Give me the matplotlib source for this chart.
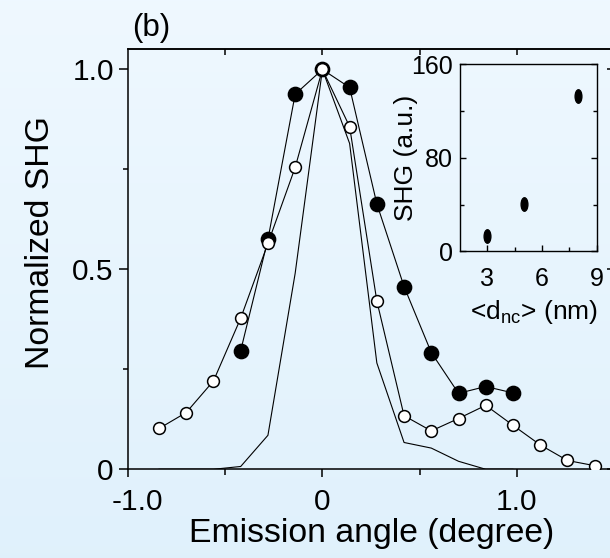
import numpy as np
import matplotlib
matplotlib.use("Agg")
import matplotlib.pyplot as plt
from matplotlib.markers import MarkerStyle
from matplotlib.transforms import Affine2D, ScaledTranslation

plt.rcParams["font.family"] = ["Liberation Sans", "DejaVu Sans"]
plt.rcParams["mathtext.fontset"] = "custom"
plt.rcParams["mathtext.rm"] = "Liberation Sans"
plt.rcParams["mathtext.it"] = "Liberation Sans:italic"

# Angular scans: emission angle (degree) vs normalized SHG
angle_filled = [-0.42, -0.28, -0.14, 0.0, 0.14, 0.28, 0.42, 0.56, 0.70, 0.84, 0.98]
shg_filled = [0.297, 0.575, 0.938, 1.0, 0.955, 0.664, 0.457, 0.292, 0.19, 0.207, 0.191]

angle_open = [-0.84, -0.70, -0.56, -0.42, -0.28, -0.14, 0.0, 0.14, 0.28, 0.42,
              0.56, 0.70, 0.84, 0.98, 1.12, 1.26, 1.40]
shg_open = [0.102, 0.142, 0.221, 0.378, 0.565, 0.755, 1.0, 0.857, 0.421, 0.134,
            0.096, 0.127, 0.160, 0.110, 0.061, 0.022, 0.009]

# Reference (fundamental beam) profile
angle_ref = [-0.84, -0.70, -0.56, -0.42, -0.28, -0.14, 0.0, 0.14, 0.28, 0.42,
             0.56, 0.70, 0.84, 0.98]
shg_ref = [0.0, 0.0, 0.0, 0.007, 0.085, 0.49, 1.0, 0.815, 0.266, 0.067,
           0.053, 0.02, 0.0, 0.0]

# Inset: SHG vs mean nanocrystal size
size_nc = [3.0, 5.0, 8.0]
shg_size = [13, 41, 133]

x_major = [-1.0, 0.0, 1.0]
x_major_labels = ["-1.0", "0", "1.0"]
x_minor = [-0.5, 0.5]
y_major = [0.0, 0.5, 1.0]
y_major_labels = ["0", "0.5", "1.0"]
y_minor = [0.25, 0.75]

inset_x_major = [3, 6, 9]
inset_x_minor = [4.5, 7.5]
inset_y_major = [0, 80, 160]
inset_y_minor = [40, 120]

fig = plt.figure(figsize=(6.1, 5.58), dpi=100)

# soft vertical background gradient
bg = fig.add_axes([0, 0, 1, 1], zorder=-10)
top_c = np.array([0.937, 0.973, 1.0])
bot_c = np.array([0.878, 0.945, 0.988])
t = np.linspace(0, 1, 256)[:, None, None]
bg.imshow(top_c + (bot_c - top_c) * t, aspect="auto", extent=[0, 1, 0, 1], origin="upper")
bg.axis("off")

# main panel
ax = fig.add_axes([0.2097, 0.159, 0.797, 0.7523])
ax.patch.set_alpha(0)
ax.plot(angle_ref, shg_ref, color="black", lw=0.8, zorder=2)
ax.plot(angle_filled, shg_filled, "-o", color="black", lw=0.8, ms=10.3,
        mfc="black", mec="black", zorder=3)
ax.plot(angle_open, shg_open, "-o", color="black", lw=0.8, ms=8.5,
        mfc="white", mec="black", mew=1.1, zorder=4)
ax.set_xlim(-1.0, 1.5)
ax.set_ylim(0, 1.05)
ax.spines["right"].set_visible(False)
for s in ["left", "bottom", "top"]:
    ax.spines[s].set_linewidth(1.1)

ax.set_xticks(x_major)
ax.set_xticklabels(x_major_labels)
ax.set_xticks(x_minor, minor=True)
ax.set_yticks(y_major)
ax.set_yticklabels(y_major_labels)
ax.set_yticks(y_minor, minor=True)
ax.tick_params(which="both", direction="out", width=1.1, labelsize=21.5)
ax.tick_params(axis="x", which="major", length=5.5, pad=8)
ax.tick_params(axis="x", which="minor", length=4)
ax.tick_params(axis="y", which="major", length=6.2, pad=4)
ax.tick_params(axis="y", which="minor", length=3.4)

sec_top = ax.secondary_xaxis("top")
sec_top.set_xticks([-0.5, 0.0, 0.5, 1.0])
sec_top.tick_params(direction="in", length=4, width=1.1, labeltop=False)
sec_top.spines["top"].set_linewidth(1.1)

sec_right = ax.secondary_yaxis("right")
sec_right.set_yticks(y_major)
sec_right.tick_params(direction="in", length=5, width=1.1, labelright=False)
sec_right.spines["right"].set_visible(False)

ax.set_xlabel("Emission angle (degree)", fontsize=24.3, va="center")
ax.xaxis.set_label_coords(0.501, -0.152)
ax.set_ylabel("Normalized SHG", fontsize=24.3, va="center")
ax.yaxis.set_label_coords(-0.179, 0.539)

fig.text(151 / 610, 1 - 28 / 558, "(b)", fontsize=22.5, ha="center", va="center")

# inset
ins = fig.add_axes([0.7541, 0.5493, 0.2240, 0.3355])
ins.patch.set_alpha(0)
oval = MarkerStyle("o", transform=Affine2D().scale(0.5, 1.0))
ins.plot(size_nc, shg_size, ls="none", marker=oval, ms=9.7, color="black")
ins.set_xlim(1.5, 9)
ins.set_ylim(0, 160)
for s in ins.spines.values():
    s.set_linewidth(1.0)
ins.set_xticks(inset_x_major)
ins.set_xticks(inset_x_minor, minor=True)
ins.set_yticks(inset_y_major)
ins.set_yticks(inset_y_minor, minor=True)
ins.tick_params(which="both", direction="in", left=True, right=True, top=False,
                bottom=True, width=1.0, labelsize=18)
ins.tick_params(which="major", length=4)
ins.tick_params(which="minor", length=3)
ins.tick_params(axis="x", pad=11)
ins.tick_params(axis="y", pad=5)
ins.set_xlabel(r"<d$_{\mathrm{nc}}$> (nm)", fontsize=19, va="center")
ins.xaxis.set_label_coords(0.539, -0.323)
ins.set_ylabel("SHG (a.u.)", fontsize=19, va="center")
ins.yaxis.set_label_coords(-0.395, 0.5)

# the leftmost angle label sits a little to the right of its tick
first = ax.get_xticklabels()[0]
first.set_transform(first.get_transform() + ScaledTranslation(0.09, 0, fig.dpi_scale_trans))

fig.savefig("out.png", dpi=100)
